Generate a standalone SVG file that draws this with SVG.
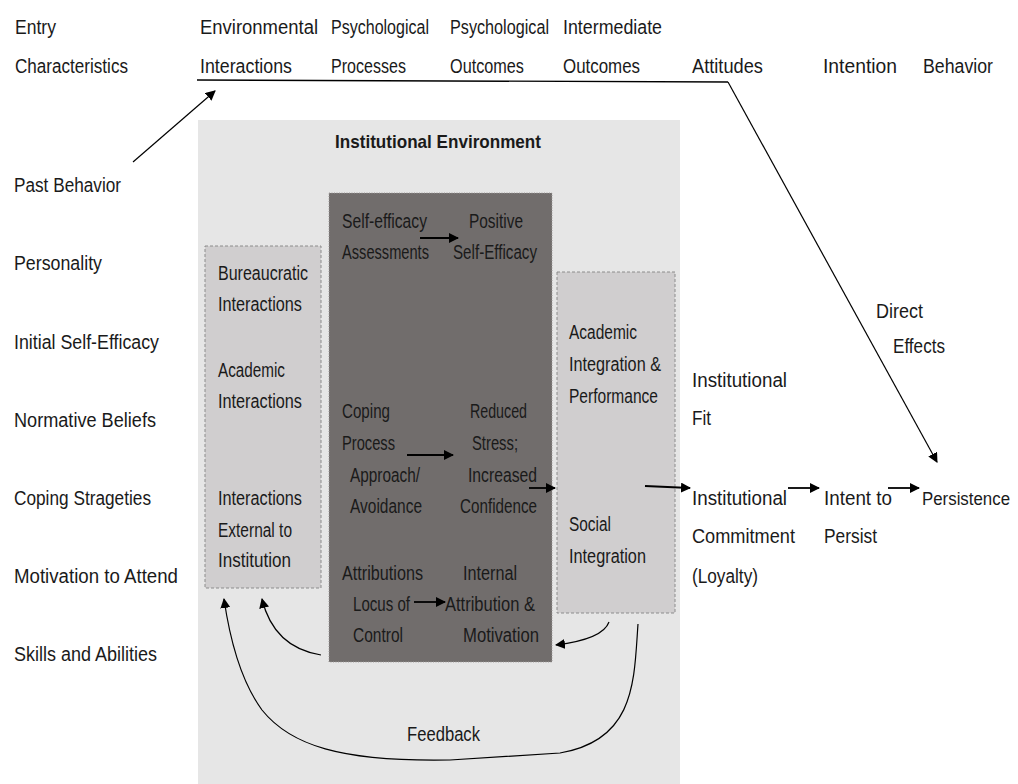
<svg xmlns="http://www.w3.org/2000/svg" width="1018" height="784" viewBox="0 0 1018 784">
<style>
text{font-family:"Liberation Sans",Arial,sans-serif;font-size:20px;fill:#1a1a1a}
.b{font-weight:bold;font-size:19px}
.sm{font-size:17.5px}
.ln{fill:none;stroke:#000;stroke-width:1.4}
.arr{fill:none;stroke:#000;stroke-width:1.8;marker-end:url(#ah)}
.thin{fill:none;stroke:#000;stroke-width:1.2;marker-end:url(#ah)}
</style>
<defs>
<marker id="ah" viewBox="0 0 10 10" refX="9" refY="5" markerWidth="10" markerHeight="10" markerUnits="userSpaceOnUse" orient="auto">
<path d="M0,0 L10,5 L0,10 z" fill="#000"/>
</marker>
</defs>
<rect width="1018" height="784" fill="#fff"/>
<g id="env">
<rect x="198" y="120" width="482" height="664" fill="#e6e6e6"/>
<text class="b" x="335" y="148" textLength="206" lengthAdjust="spacingAndGlyphs">Institutional Environment</text>
</g>
<g id="left-box">
<rect x="205" y="246" width="116" height="342" fill="#d0cecf" stroke="#8c8c8c" stroke-dasharray="3,2"/>
<text x="218" y="280" textLength="90" lengthAdjust="spacingAndGlyphs">Bureaucratic</text>
<text x="218" y="311" textLength="84" lengthAdjust="spacingAndGlyphs">Interactions</text>
<text x="218" y="377" textLength="67" lengthAdjust="spacingAndGlyphs">Academic</text>
<text x="218" y="408" textLength="84" lengthAdjust="spacingAndGlyphs">Interactions</text>
<text x="218" y="505" textLength="84" lengthAdjust="spacingAndGlyphs">Interactions</text>
<text x="218" y="537" textLength="74" lengthAdjust="spacingAndGlyphs">External to</text>
<text x="218" y="567" textLength="73" lengthAdjust="spacingAndGlyphs">Institution</text>
</g>
<g id="dark-box">
<rect x="329" y="193" width="223" height="469" fill="#716d6c" stroke="#a09c9b" stroke-dasharray="1,1.5"/>
<text x="342" y="228" textLength="85" lengthAdjust="spacingAndGlyphs">Self-efficacy</text>
<text x="342" y="259" textLength="87" lengthAdjust="spacingAndGlyphs">Assessments</text>
<text x="469" y="228" textLength="54" lengthAdjust="spacingAndGlyphs">Positive</text>
<text x="453" y="259" textLength="84" lengthAdjust="spacingAndGlyphs">Self-Efficacy</text>
<text x="342" y="418" textLength="48" lengthAdjust="spacingAndGlyphs">Coping</text>
<text x="342" y="450" textLength="53" lengthAdjust="spacingAndGlyphs">Process</text>
<text x="350" y="482" textLength="70" lengthAdjust="spacingAndGlyphs">Approach/</text>
<text x="350" y="513" textLength="72" lengthAdjust="spacingAndGlyphs">Avoidance</text>
<text x="470" y="418" textLength="57" lengthAdjust="spacingAndGlyphs">Reduced</text>
<text x="472" y="450" textLength="46" lengthAdjust="spacingAndGlyphs">Stress;</text>
<text x="468" y="482" textLength="69" lengthAdjust="spacingAndGlyphs">Increased</text>
<text x="460" y="513" textLength="77" lengthAdjust="spacingAndGlyphs">Confidence</text>
<text x="342" y="580" textLength="81" lengthAdjust="spacingAndGlyphs">Attributions</text>
<text x="353" y="611" textLength="57" lengthAdjust="spacingAndGlyphs">Locus of</text>
<text x="353" y="642" textLength="50" lengthAdjust="spacingAndGlyphs">Control</text>
<text x="463" y="580" textLength="54" lengthAdjust="spacingAndGlyphs">Internal</text>
<text x="445" y="611" textLength="90" lengthAdjust="spacingAndGlyphs">Attribution &amp;</text>
<text x="463" y="642" textLength="76" lengthAdjust="spacingAndGlyphs">Motivation</text>
</g>
<g id="right-box">
<rect x="557" y="272" width="118" height="341" fill="#d0cecf" stroke="#8c8c8c" stroke-dasharray="3,2"/>
<text x="569" y="339" textLength="68" lengthAdjust="spacingAndGlyphs">Academic</text>
<text x="569" y="371" textLength="92" lengthAdjust="spacingAndGlyphs">Integration &amp;</text>
<text x="569" y="403" textLength="89" lengthAdjust="spacingAndGlyphs">Performance</text>
<text x="569" y="531" textLength="42" lengthAdjust="spacingAndGlyphs">Social</text>
<text x="569" y="563" textLength="77" lengthAdjust="spacingAndGlyphs">Integration</text>
</g>
<g id="headers">
<text x="15" y="34" textLength="41" lengthAdjust="spacingAndGlyphs">Entry</text>
<text x="15" y="73" textLength="113" lengthAdjust="spacingAndGlyphs">Characteristics</text>
<text x="200" y="34" textLength="118" lengthAdjust="spacingAndGlyphs">Environmental</text>
<text x="200" y="73" textLength="92" lengthAdjust="spacingAndGlyphs">Interactions</text>
<text x="331" y="34" textLength="98" lengthAdjust="spacingAndGlyphs">Psychological</text>
<text x="331" y="73" textLength="75" lengthAdjust="spacingAndGlyphs">Processes</text>
<text x="450" y="34" textLength="99" lengthAdjust="spacingAndGlyphs">Psychological</text>
<text x="450" y="73" textLength="74" lengthAdjust="spacingAndGlyphs">Outcomes</text>
<text x="563" y="34" textLength="99" lengthAdjust="spacingAndGlyphs">Intermediate</text>
<text x="563" y="73" textLength="77" lengthAdjust="spacingAndGlyphs">Outcomes</text>
<text x="692" y="73" textLength="71" lengthAdjust="spacingAndGlyphs">Attitudes</text>
<text x="823" y="73" textLength="74" lengthAdjust="spacingAndGlyphs">Intention</text>
<text x="923" y="73" textLength="70" lengthAdjust="spacingAndGlyphs">Behavior</text>
</g>
<g id="entry-characteristics">
<text x="14" y="192" textLength="107" lengthAdjust="spacingAndGlyphs">Past Behavior</text>
<text x="14" y="270" textLength="88" lengthAdjust="spacingAndGlyphs">Personality</text>
<text x="14" y="349" textLength="145" lengthAdjust="spacingAndGlyphs">Initial Self-Efficacy</text>
<text x="14" y="427" textLength="142" lengthAdjust="spacingAndGlyphs">Normative Beliefs</text>
<text x="14" y="505" textLength="137" lengthAdjust="spacingAndGlyphs">Coping Strageties</text>
<text x="14" y="583" textLength="164" lengthAdjust="spacingAndGlyphs">Motivation to Attend</text>
<text x="14" y="661" textLength="143" lengthAdjust="spacingAndGlyphs">Skills and Abilities</text>
</g>
<g id="outcomes">
<text x="692" y="387" textLength="95" lengthAdjust="spacingAndGlyphs">Institutional</text>
<text x="692" y="425" textLength="19" lengthAdjust="spacingAndGlyphs">Fit</text>
<text x="692" y="505" textLength="95" lengthAdjust="spacingAndGlyphs">Institutional</text>
<text x="692" y="543" textLength="103" lengthAdjust="spacingAndGlyphs">Commitment</text>
<text x="692" y="583" textLength="66" lengthAdjust="spacingAndGlyphs">(Loyalty)</text>
<text x="824" y="505" textLength="68" lengthAdjust="spacingAndGlyphs">Intent to</text>
<text x="824" y="543" textLength="53" lengthAdjust="spacingAndGlyphs">Persist</text>
<text class="sm" x="922" y="505" textLength="88" lengthAdjust="spacingAndGlyphs">Persistence</text>
<text x="876" y="318" textLength="47" lengthAdjust="spacingAndGlyphs">Direct</text>
<text x="893" y="353" textLength="52" lengthAdjust="spacingAndGlyphs">Effects</text>
</g>
<g id="feedback-label">
<text x="407" y="741" textLength="73" lengthAdjust="spacingAndGlyphs">Feedback</text>
</g>
<g id="connectors">
<polyline class="ln" points="197,80 728,82"/>
<path class="thin" d="M728,82 L937,462"/>
<path class="thin" d="M133,162 L215,91"/>
<path class="arr" d="M420,238 L458,238"/>
<path class="arr" d="M407,455 L453,455"/>
<path class="arr" d="M529,488 L555,488"/>
<path class="arr" d="M414,602 L445,602"/>
<path class="arr" d="M645,486 L690,488"/>
<path class="arr" d="M788,488 L819,488"/>
<path class="arr" d="M888,488 L919,488"/>
<path class="thin" d="M321,655 C290,650 270,632 262,599"/>
<path class="thin" d="M609,622 C604,636 580,642 556,645"/>
<path class="thin" d="M638,624 C634,680 636,740 560,753 L450,760 C340,762 290,745 262,710 C240,680 230,640 224,599"/>
</g>
</svg>
